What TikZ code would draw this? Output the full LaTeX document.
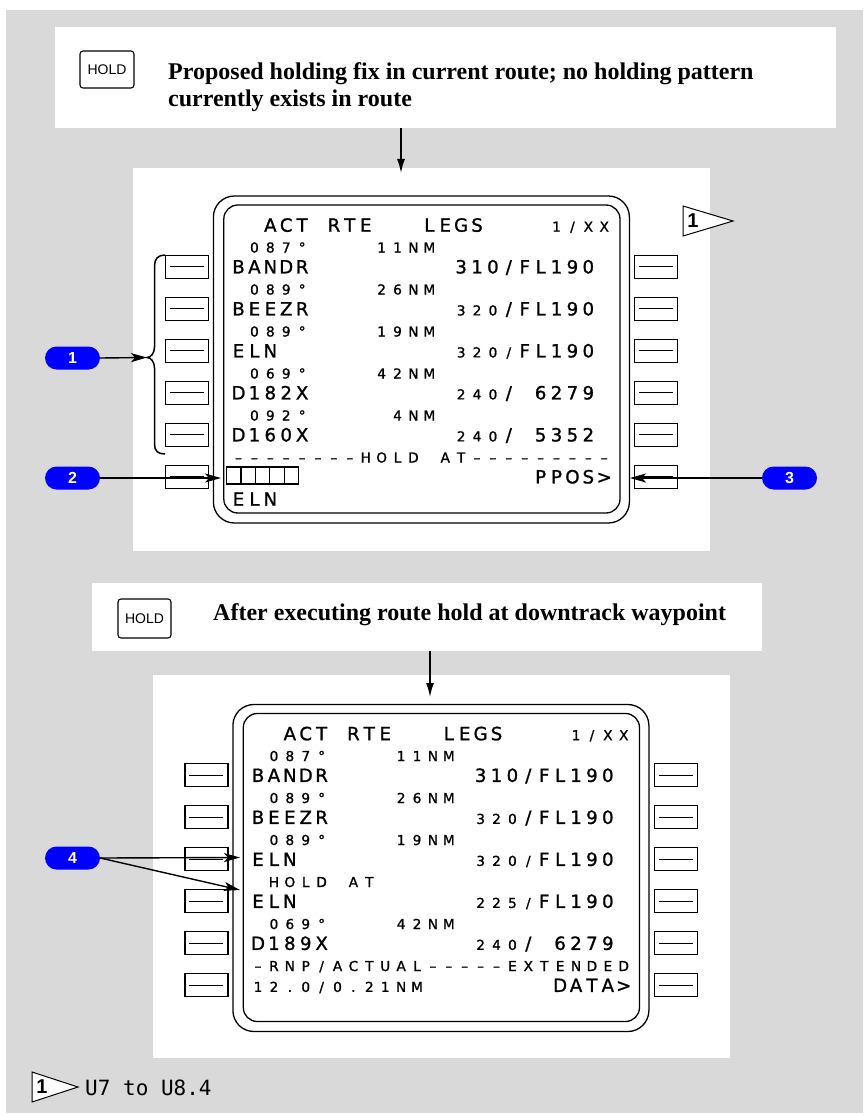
\documentclass[tikz,border=0pt]{standalone}
\usepackage{fontspec}
\setmainfont{Liberation Serif}
\newfontfamily\cdufont[FakeBold=1.2]{DejaVu Sans}
\newfontfamily\keyfont{Liberation Sans}
\newfontfamily\monofont{DejaVu Sans Mono}
\usetikzlibrary{arrows.meta}
\definecolor{bggray}{RGB}{217,217,217}
\definecolor{badgeblue}{RGB}{0,0,255}
\makeatletter
\newcommand\cdutext[1]{\@tfor\cdc:=#1\do{\makebox[15.9pt][c]{\cdc}}}
\makeatother
\newcommand\cdu[5]{\node[#1] (#4) at ({230.4+15.9*#2},#3) {\cdutext{#5}};}
\tikzset{
  whitebox/.style={fill=white, draw=none, inner sep=0pt, anchor=north west},
  lsk/.style={draw, line width=1.2pt, fill=white, minimum width=43pt, minimum height=23pt, inner sep=0pt,
    path picture={\draw[line width=1.3pt] ([xshift=4.5pt]path picture bounding box.west) -- ([xshift=-4.5pt]path picture bounding box.east);}},
  bezel/.style={line width=1.3pt},
  cduL/.style={anchor=base west, inner sep=0pt, font=\cdufont\fontsize{18.2}{20}\selectfont},
  cduS/.style={anchor=base west, inner sep=0pt, font=\cdufont\fontsize{13.7}{15}\selectfont},
  badge/.style={fill=badgeblue, rounded corners=11.5pt, minimum width=55pt, minimum height=23pt, inner sep=0pt,
    text=white, font=\keyfont\bfseries\fontsize{16}{16}\selectfont},
  callout/.style={line width=1.4pt, -{Stealth[length=16pt,width=9pt,inset=4pt]}},
  flow/.style={line width=1.5pt, -{Latex[length=14pt,width=8pt]}},
  holdkey/.style={draw, line width=1.1pt, rounded corners=3pt, fill=white, inner sep=0pt,
    font=\keyfont\fontsize{14}{14}\selectfont},
  header/.style={anchor=base west, inner sep=0pt, font=\bfseries\fontsize{24}{28}\selectfont},
  flagshape/.style={draw, line width=1pt, fill=white},
  flagnum/.style={inner sep=0pt, font=\keyfont\bfseries\fontsize{20}{20}\selectfont},
}
\newcommand\cduframe[1]{%
  \draw[bezel, rounded corners=21pt] (213.4,196) rectangle (629.4,523);
  \draw[bezel, rounded corners=14pt] (223.8,205) rectangle (620,513);
  \foreach \i in {0,...,5} {
    \node[lsk] (#1L\i) at (186.9,266.7+42*\i) {};
    \node[lsk] (#1R\i) at (656.2,266.7+42*\i) {};
  }
}
\begin{document}
\begin{tikzpicture}[x=1pt,y=-1pt]
\useasboundingbox (0,0) rectangle (863,1115);
\fill[bggray] (6,10) rectangle (863,1113);

% white panels
\node[whitebox, minimum width=781pt, minimum height=101pt] (hdr1) at (55,27) {};
\node[whitebox, minimum width=577pt, minimum height=383pt] (disp1) at (133,168) {};
\node[whitebox, minimum width=670pt, minimum height=68pt] (hdr2) at (92,583) {};
\node[whitebox, minimum width=577pt, minimum height=383pt] (disp2) at (153,675) {};

% headers
\node[holdkey, minimum width=54pt, minimum height=37pt] (hk1) at (107,69.5) {HOLD};
\node[header] (h1a) at (168,80) {Proposed holding fix in current route; no holding pattern};
\node[header] (h1b) at (168,107) {currently exists in route};
\node[holdkey, minimum width=53pt, minimum height=39pt] (hk2) at (144.5,618.5) {HOLD};
\node[header] (h2a) at (213,620) {After executing route hold at downtrack waypoint};

\coordinate (a1) at (401,173);
\draw[flow] (hdr1.south -| a1) -- (a1);
\coordinate (a2) at (430,697);
\draw[flow] (hdr2.south -| a2) -- (a2);

% ---------- display 1 ----------
\cduframe{a}
\cdu{cduL}{2}{231.7}{aT}{ACT~RTE~~~LEGS}
\cdu{cduS}{20}{231.7}{aP}{1/XX}
\cdu{cduS}{1}{252.5}{aS0}{087°~~~~11NM}
\cdu{cduL}{0}{273.4}{aW0}{BANDR}
\cdu{cduL}{14}{273.4}{aC0}{310/FL190}
\cdu{cduS}{1}{294.5}{aS1}{089°~~~~26NM}
\cdu{cduL}{0}{315.4}{aW1}{BEEZR}
\cdu{cduS}{14}{315.4}{aV1}{320}
\cdu{cduL}{17}{315.4}{aC1}{/FL190}
\cdu{cduS}{1}{336.5}{aS2}{089°~~~~19NM}
\cdu{cduL}{0}{357.4}{aW2}{ELN}
\cdu{cduS}{14}{357.4}{aV2}{320/}
\cdu{cduL}{18}{357.4}{aC2}{FL190}
\cdu{cduS}{1}{378.5}{aS3}{069°~~~~42NM}
\cdu{cduL}{0}{399.4}{aW3}{D182X}
\cdu{cduS}{14}{399.4}{aV3}{240}
\cdu{cduL}{17}{399.4}{aC3}{/~6279}
\cdu{cduS}{1}{420.5}{aS4}{092°~~~~~4NM}
\cdu{cduL}{0}{441.4}{aW4}{D160X}
\cdu{cduS}{14}{441.4}{aV4}{240}
\cdu{cduL}{17}{441.4}{aC4}{/~5352}
\cdu{cduS}{0}{462.5}{aS5}{––––––––HOLD~AT–––––––––}
\foreach \k in {0,...,4} \draw[line width=1.2pt] (226.5+14.4*\k,467) rectangle ++(14.4,17);
\cdu{cduL}{19}{483.4}{aC5}{PPOS>}
\cdu{cduL}{0}{505.7}{aW6}{ELN}

% ---------- display 2 ----------
\begin{scope}[shift={(19.5,508.5)}]
\cduframe{b}
\cdu{cduL}{2}{231.7}{bT}{ACT~RTE~~~LEGS}
\cdu{cduS}{20}{231.7}{bP}{1/XX}
\cdu{cduS}{1}{252.5}{bS0}{087°~~~~11NM}
\cdu{cduL}{0}{273.4}{bW0}{BANDR}
\cdu{cduL}{14}{273.4}{bC0}{310/FL190}
\cdu{cduS}{1}{294.5}{bS1}{089°~~~~26NM}
\cdu{cduL}{0}{315.4}{bW1}{BEEZR}
\cdu{cduS}{14}{315.4}{bV1}{320}
\cdu{cduL}{17}{315.4}{bC1}{/FL190}
\cdu{cduS}{1}{336.5}{bS2}{089°~~~~19NM}
\cdu{cduL}{0}{357.4}{bW2}{ELN}
\cdu{cduS}{14}{357.4}{bV2}{320/}
\cdu{cduL}{18}{357.4}{bC2}{FL190}
\cdu{cduS}{1}{378.5}{bS3}{HOLD~AT}
\cdu{cduL}{0}{399.4}{bW3}{ELN}
\cdu{cduS}{14}{399.4}{bV3}{225/}
\cdu{cduL}{18}{399.4}{bC3}{FL190}
\cdu{cduS}{1}{420.5}{bS4}{069°~~~~42NM}
\cdu{cduL}{0}{441.4}{bW4}{D189X}
\cdu{cduS}{14}{441.4}{bV4}{240}
\cdu{cduL}{17}{441.4}{bC4}{/~6279}
\cdu{cduS}{0}{462.5}{bS5}{–RNP/ACTUAL–––––EXTENDED}
\cdu{cduS}{0}{483.4}{bW5}{12.0/0.21NM}
\cdu{cduL}{19}{483.4}{bC5}{DATA>}
\end{scope}

% bracket
\coordinate (brtip) at (147,357.5);
\draw[line width=1.5pt] (165,255) .. controls (158,255) and (154.5,259) .. (154.5,266) -- (154.5,347)
  .. controls (154.5,353) and (151,357.5) .. (brtip)
  .. controls (151,357.5) and (154.5,362) .. (154.5,368) -- (154.5,444)
  .. controls (154.5,451) and (158,454) .. (165,454);

% callouts
\node[badge] (b1) at (72.5,358) {1};
\node[badge] (b2) at (72.5,478) {2};
\node[badge] (b3) at (789.5,478) {3};
\node[badge] (b4) at (72.5,858) {4};
\coordinate (t2) at (221,478);
\coordinate (t3) at (630,478);
\coordinate (t4a) at (240,857.5);
\coordinate (t4b) at (240,890);
\draw[callout] (b1.east) -- (brtip);
\draw[callout] (b2.east) -- (t2);
\draw[callout] (b3.west) -- (t3);
\draw[callout] (b4.east) -- (t4a);
\draw[callout] (b4.east) -- (t4b);

% effectivity flags
\draw[flagshape] (683,206) -- (733,221) -- (683,236) -- cycle;
\node[flagnum] (f1) at (693,221) {1};
\draw[flagshape] (32,1072) -- (78,1087) -- (32,1102) -- cycle;
\node[flagnum] (f2) at (42,1087) {1};
\node[anchor=base west, inner sep=0pt, font=\monofont\fontsize{21}{21}\selectfont] (foot) at (85,1095.5) {U7 to U8.4};
\end{tikzpicture}
\end{document}
